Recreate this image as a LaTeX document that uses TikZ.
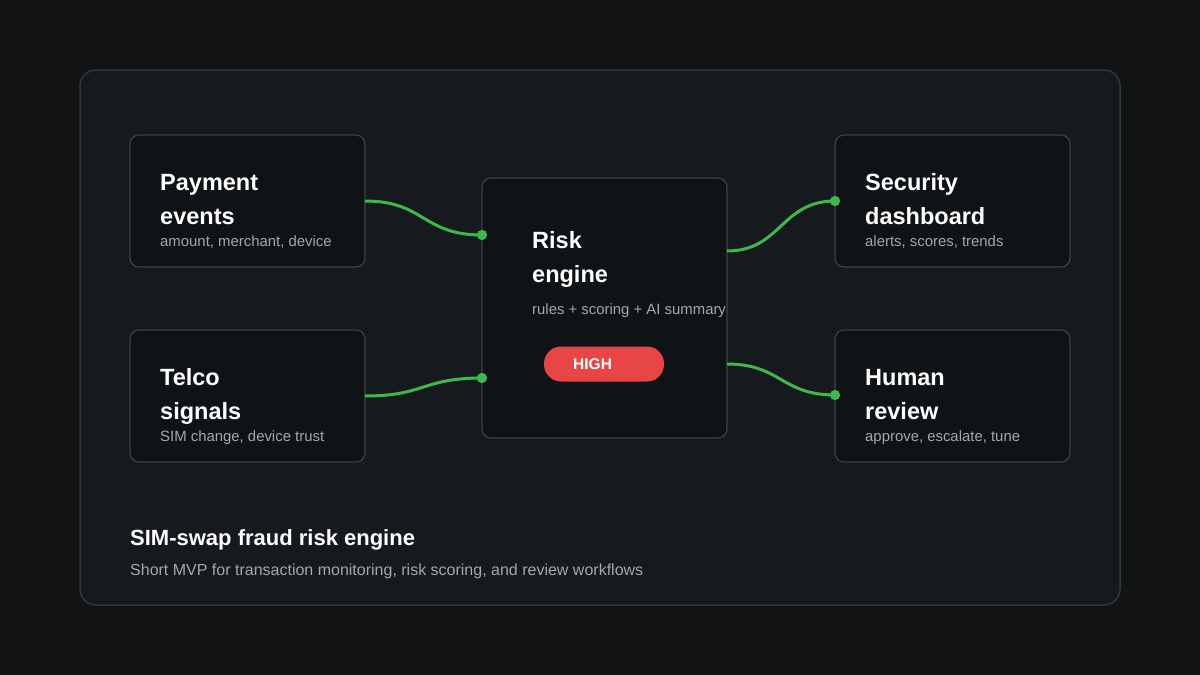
\documentclass[tikz,border=0pt]{standalone}
\usepackage{fontspec}
\setmainfont{Liberation Sans}
\begin{document}
\definecolor{bg}{HTML}{111315}
\definecolor{panel}{HTML}{161A1E}
\definecolor{panelb}{HTML}{2C3834}
\definecolor{boxf}{HTML}{0F1316}
\definecolor{boxb}{HTML}{34463E}
\definecolor{grn}{HTML}{3DB84A}
\definecolor{sub}{HTML}{A0A8B0}
\definecolor{hred}{HTML}{E84545}
\begin{tikzpicture}[x=1pt,y=-1pt,
  box/.style={draw=boxb,fill=boxf,line width=1.2pt,rounded corners=9pt,inner sep=0},
  ttl/.style={anchor=base west,text=white,font=\fontsize{23.5}{27}\selectfont\bfseries,inner sep=0},
  st/.style={anchor=base west,text=sub,font=\fontsize{14.9}{17}\selectfont,inner sep=0},
  con/.style={draw=grn,line width=3pt},
  dot/.style={circle,fill=grn,inner sep=0,minimum size=10pt}]
\fill[bg] (0,0) rectangle (1200,675);
\useasboundingbox (0,0) rectangle (1200,675);
\draw[fill=panel,draw=panelb,line width=1.5pt,rounded corners=16pt] (80,70) rectangle (1120,605);
\draw[box] (130,135) rectangle (365,267);
\draw[box] (130,330) rectangle (365,462);
\draw[box] (482,178) rectangle (727,438);
\draw[box] (835,135) rectangle (1070,267);
\draw[box] (835,330) rectangle (1070,462);
\node[ttl] (p1) at (160,190) {Payment};
\node[ttl] (p2) at (160,224) {events};
\node[st] (p3) at (160,246) {amount, merchant, device};
\node[ttl] (t1) at (160,385) {Telco};
\node[ttl] (t2) at (160,419) {signals};
\node[st] (t3) at (160,441) {SIM change, device trust};
\node[ttl] (r1) at (532,248) {Risk};
\node[ttl] (r2) at (532,282) {engine};
\node[st] (r3) at (532,314) {rules + scoring + AI summary};
\node[fill=hred,rounded corners=17pt,minimum width=120pt,minimum height=35pt,inner sep=0] (hp) at (604,364) {};
\node[anchor=base west,text=white,font=\fontsize{15.5}{18}\selectfont\bfseries,inner sep=0] (ht) at (573,369.5) {HIGH};
\node[ttl] (s1) at (865,190) {Security};
\node[ttl] (s2) at (865,224) {dashboard};
\node[st] (s3) at (865,246) {alerts, scores, trends};
\node[ttl] (h1) at (865,385) {Human};
\node[ttl] (h2) at (865,419) {review};
\node[st] (h3) at (865,441) {approve, escalate, tune};
\node[anchor=base west,text=white,font=\fontsize{22}{26}\selectfont\bfseries,inner sep=0] (f1) at (130,545) {SIM-swap fraud risk engine};
\node[anchor=base west,text=sub,font=\fontsize{16}{19}\selectfont,inner sep=0] (f2) at (130,575) {Short MVP for transaction monitoring, risk scoring, and review workflows};
\coordinate (a1) at (365,201); \node[dot] (d1) at (482,235) {};
\coordinate (a2) at (365,396); \node[dot] (d2) at (482,378) {};
\coordinate (a3) at (727,251); \node[dot] (d3) at (835,201) {};
\coordinate (a4) at (727,364); \node[dot] (d4) at (835,395) {};
\draw[con] (a1) .. controls (425,201) and (422,235) .. (d1.center);
\draw[con] (a2) .. controls (425,396) and (422,378) .. (d2.center);
\draw[con] (a3) .. controls (781,251) and (781,201) .. (d3.center);
\draw[con] (a4) .. controls (781,364) and (781,395) .. (d4.center);
\node[dot] at (d1) {}; \node[dot] at (d2) {}; \node[dot] at (d3) {}; \node[dot] at (d4) {};
\end{tikzpicture}
\end{document}
